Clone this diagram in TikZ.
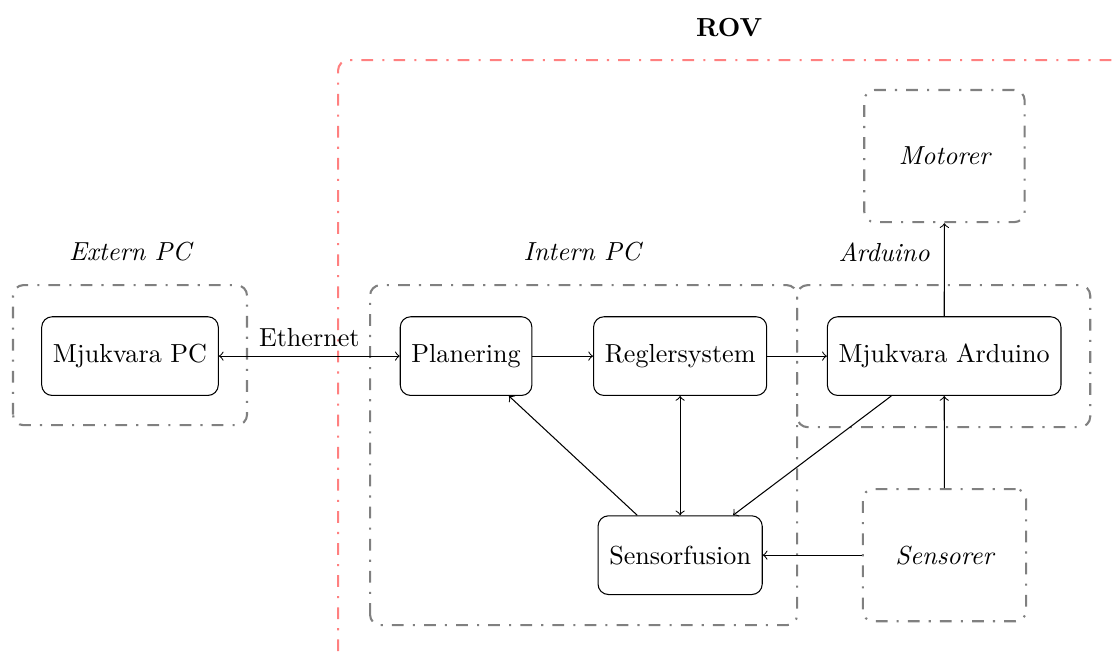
\documentclass[tikz,border=0pt]{standalone}
\usetikzlibrary{positioning}
\tikzset{
	blokk/.style={draw, rounded corners, minimum height=1.06cm, inner xsep=4.3pt},
	grupp/.style={draw=gray, thick, rounded corners, dash pattern=on 4.5pt off 3.5pt on 0.8pt off 3.5pt},
	grupplabel/.style={font=\itshape},
}
\begin{document}
\begin{tikzpicture}[>=to]
		\useasboundingbox (0,0) rectangle (14.99,8.77);
		% ROV-gräns
		\node[font=\bfseries] (rov) at (9.82,8.405) {ROV};
		\draw[red!50, thick, rounded corners, dash pattern=on 4.5pt off 3.5pt on 0.8pt off 3.5pt]
			(4.553,0) -- (4.553,7.961) -- (14.99,7.961);
		% grupper
		\draw[grupp] (0.175,3.044) rectangle (3.327,4.930);
		\draw[grupp] (4.984,0.350) rectangle (10.736,4.930);
		\draw[grupp] (10.736,3.017) rectangle (14.683,4.930);
		\node[grupplabel] (lext) at (1.751,5.375) {Extern PC};
		\node[grupplabel] (lint) at (7.840,5.375) {Intern PC};
		\node[grupplabel] (lard) at (11.907,5.375) {Arduino};
		% block
		\node[blokk] (mpc) at (1.751,3.974) {Mjukvara PC};
		\node[blokk] (plan) at (6.277,3.974) {Planering};
		\node[blokk] (regl) at (9.160,3.974) {Reglersystem};
		\node[blokk] (mard) at (12.716,3.974) {Mjukvara Arduino};
		\node[blokk] (sfus) at (9.160,1.293) {Sensorfusion};
		\node[grupp, grupplabel, minimum width=2.16cm, minimum height=1.78cm] (mot) at (12.72,6.668) {Motorer};
		\node[grupp, grupplabel, minimum width=2.2cm, minimum height=1.78cm] (sens) at (12.72,1.293) {Sensorer};
		% pilar
		\draw[<->] (mpc) -- node[above] {Ethernet} (plan);
		\draw[->] (plan) -- (regl);
		\draw[->] (regl) -- (mard);
		\draw[->] (mard) -- (mot);
		\draw[->] (sens) -- (mard);
		\draw[->] (sens) -- (sfus);
		\draw[->] (sfus) -- (plan);
		\draw[<->] (regl) -- (sfus);
		\draw[->] (mard) -- (sfus);
	\end{tikzpicture}
\end{document}
